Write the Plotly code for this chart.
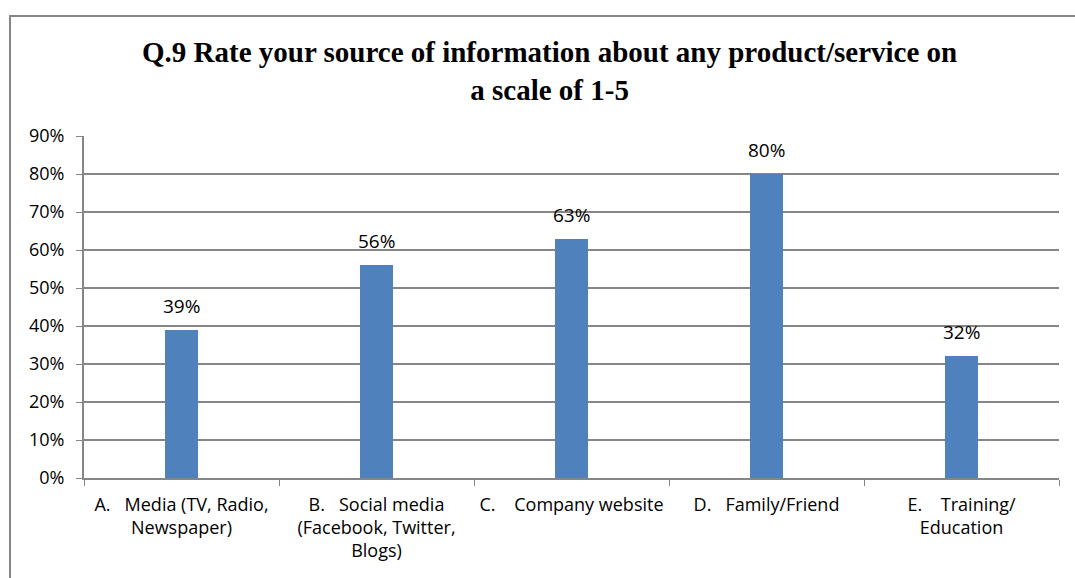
import plotly.graph_objects as go

# Survey categories and share of respondents
categories = [
    "A.   Media (TV, Radio,<br>Newspaper)",
    "B.   Social media<br>(Facebook, Twitter,<br>Blogs)",
    "C.    Company website",
    "D.   Family/Friend",
    "E.    Training/<br>Education",
]
values = [0.39, 0.56, 0.63, 0.80, 0.32]
y_ticks = [0, 0.1, 0.2, 0.3, 0.4, 0.5, 0.6, 0.7, 0.8, 0.9]
title_text = "Q.9 Rate your source of information about any product/service on<br>a scale of 1-5"

GRAY = "#868686"
BAR = "#4F81BD"
W, H = 1075, 578
ML, MR, MT, MB = 84, 16, 136, 100
PW = W - ML - MR
PH = H - MT - MB

fig = go.Figure(
    go.Bar(
        x=categories,
        y=values,
        marker=dict(color=BAR, line=dict(width=0)),
        width=0.17,
        cliponaxis=False,
    )
)

# Value labels above each bar
for cat, val in zip(categories, values):
    fig.add_annotation(
        x=cat,
        y=val,
        text=f"{val:.0%}",
        xanchor="center",
        yanchor="bottom",
        yshift=9,
        showarrow=False,
        font=dict(family="Open Sans", size=19, color="#000000"),
    )

fig.update_layout(
    width=W,
    height=H,
    margin=dict(l=ML, r=MR, t=MT, b=MB),
    paper_bgcolor="white",
    plot_bgcolor="white",
    showlegend=False,
    bargap=0,
    xaxis=dict(
        type="category",
        tickson="boundaries",
        ticks="outside",
        ticklen=6,
        tickcolor=GRAY,
        showline=True,
        linecolor=GRAY,
        linewidth=2,
        showgrid=False,
        ticklabelstandoff=9,
        tickfont=dict(family="Open Sans", size=18, color="#000000"),
        range=[-0.5, 4.5],
    ),
    yaxis=dict(
        range=[0, 0.9],
        tickvals=y_ticks,
        tickformat=".0%",
        ticks="outside",
        ticklen=6,
        tickcolor=GRAY,
        showline=True,
        linecolor=GRAY,
        linewidth=2,
        showgrid=True,
        gridcolor=GRAY,
        gridwidth=2,
        zeroline=False,
        ticklabelstandoff=8,
        tickfont=dict(family="Open Sans", size=18, color="#000000"),
    ),
)

# Chart title
fig.add_annotation(
    text=title_text,
    xref="paper",
    yref="paper",
    x=(549 - ML) / PW,
    y=(H - MB - 71) / PH,
    xanchor="center",
    yanchor="middle",
    showarrow=False,
    font=dict(family="Liberation Serif", size=29, color="#000000", weight="bold"),
)

# Chart-area frame
fig.add_shape(
    type="rect",
    xref="paper",
    yref="paper",
    x0=(10 - ML) / PW,
    x1=(W + 20 - ML) / PW,
    y0=-(H + 20 - MT - PH) / PH,
    y1=(MT - 16 + PH) / PH,
    line=dict(color=GRAY, width=2),
    fillcolor="rgba(0,0,0,0)",
    layer="below",
)

fig.write_html("out.html")
